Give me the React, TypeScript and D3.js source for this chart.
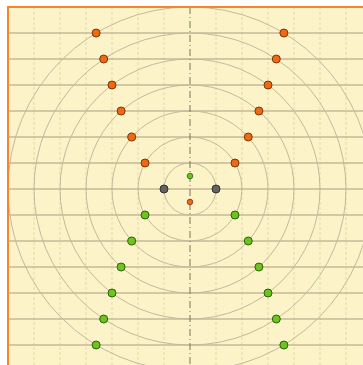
import React from "react";
import * as d3 from "d3";

// data
const upperX = [1.73, 2.24, 2.65, 3.0, 3.32, 3.61];
const upperY = [1, 2, 3, 4, 5, 6];
const lowerX = [1.73, 2.24, 2.65, 3.0, 3.32, 3.61];
const lowerY = [-1, -2, -3, -4, -5, -6];
const grayPts = [
  [-1, 0],
  [1, 0],
];
const smallGreen = [[0, 0.5]];
const smallOrange = [[0, -0.5]];
const circleRadii = [1, 2, 3, 4, 5, 6, 7];
const gridTicks = d3.range(-7, 8);

const W = 356;
const H = 359;
const unit = 26;
const x = d3.scaleLinear().domain([-7, 7]).range([1, 1 + 14 * unit]);
const y = d3.scaleLinear().domain([7, -7]).range([1, 1 + 14 * unit]);

export default function App() {
  const orange = upperY.flatMap((yy, i) => [
    [-upperX[i], yy],
    [upperX[i], yy],
  ]);
  const green = lowerY.flatMap((yy, i) => [
    [-lowerX[i], yy],
    [lowerX[i], yy],
  ]);
  const cx = x(0);
  const cy = y(0);
  return (
    <svg width={W} height={H} style={{ display: "block", position: "absolute", left: 7, top: 6 }}>
      <rect x={x(-7)} y={y(7)} width={14 * unit} height={14 * unit} fill="#fdf3c9" />
      {gridTicks.map((t) =>
        t === 0 ? null : (
          <line
            key={"v" + t}
            x1={x(t)}
            x2={x(t)}
            y1={y(7)}
            y2={y(-7)}
            stroke="#e6d9a8"
            strokeWidth={1}
            strokeDasharray="3,2"
          />
        )
      )}
      {gridTicks.map((t) => (
        <line
          key={"h" + t}
          x1={x(-7)}
          x2={x(7)}
          y1={y(t)}
          y2={y(t)}
          stroke="#ab9d80"
          strokeWidth={1.1}
        />
      ))}
      {circleRadii.map((r) => (
        <circle
          key={"c" + r}
          cx={cx}
          cy={cy}
          r={x(r) - x(0)}
          fill="none"
          stroke="#c2b99e"
          strokeWidth={1}
        />
      ))}
      <line
        x1={cx}
        x2={cx}
        y1={y(7)}
        y2={y(-7)}
        stroke="#7a735f"
        strokeWidth={1}
        strokeDasharray="7,3,1,3"
      />
      <line x1={x(-7) - 1} x2={x(7)} y1={y(7)} y2={y(7)} stroke="#f7852e" strokeWidth={2} />
      <line x1={x(-7)} x2={x(-7)} y1={y(7) - 1} y2={y(-7)} stroke="#f7852e" strokeWidth={2} />
      {orange.map((p, i) => (
        <circle key={"o" + i} cx={x(p[0])} cy={y(p[1])} r={4} fill="#f2680f" stroke="#7a3510" strokeWidth={1} />
      ))}
      {green.map((p, i) => (
        <circle key={"g" + i} cx={x(p[0])} cy={y(p[1])} r={4} fill="#6cc41c" stroke="#2f5f0c" strokeWidth={1} />
      ))}
      {grayPts.map((p, i) => (
        <circle key={"k" + i} cx={x(p[0])} cy={y(p[1])} r={4} fill="#636363" stroke="#2e2e2e" strokeWidth={1} />
      ))}
      {smallGreen.map((p, i) => (
        <circle key={"sg" + i} cx={x(p[0])} cy={y(p[1])} r={2.8} fill="#6cc41c" stroke="#2f5f0c" strokeWidth={0.8} />
      ))}
      {smallOrange.map((p, i) => (
        <circle key={"so" + i} cx={x(p[0])} cy={y(p[1])} r={2.8} fill="#f2680f" stroke="#7a3510" strokeWidth={0.8} />
      ))}
    </svg>
  );
}
